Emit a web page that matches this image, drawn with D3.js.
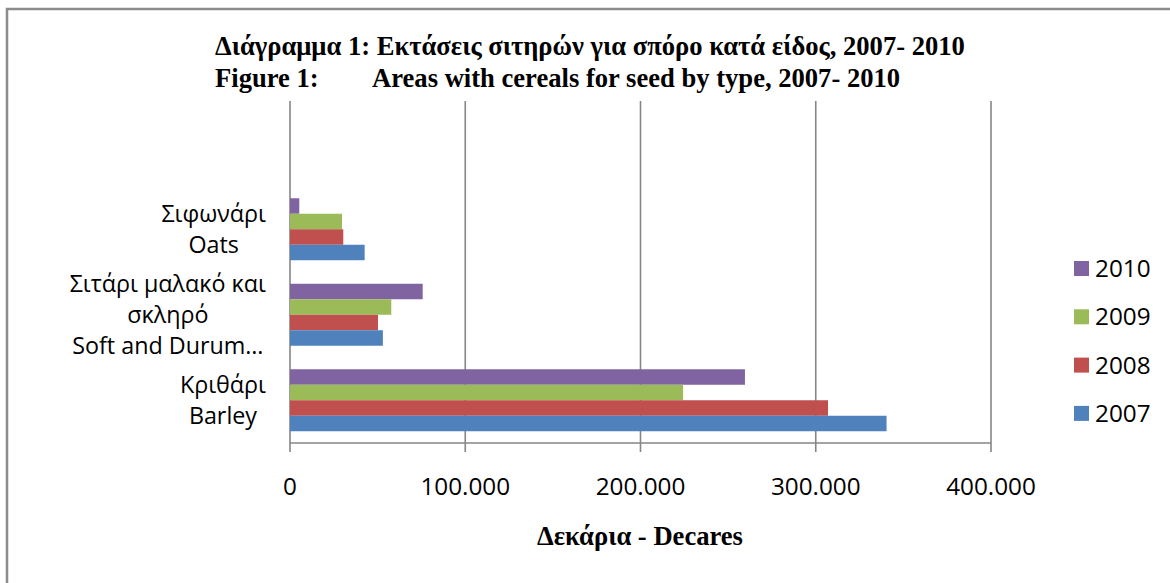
<!DOCTYPE html>
<html>
<head>
<meta charset="utf-8">
<title>Areas with cereals for seed by type</title>
<script src="https://d3js.org/d3.v7.min.js"></script>
<style>
  body { margin: 0; background: #fff; }
  .lbl { font-family: "Open Sans", "Noto Sans", sans-serif; font-size: 23.3px; fill: #000; }
  .num { font-family: "Open Sans", "Noto Sans", sans-serif; font-size: 24.3px; fill: #000; }
  .ttl { font-family: "Liberation Serif", "Times New Roman", serif; font-weight: bold; fill: #000; font-size: 26.6px; }
</style>
</head>
<body>
<div id="chart"></div>
<script>
  // data (decares)
  var categories = ["", "oats", "wheat", "barley"];
  var catLabels = {
    "": [],
    oats: ["Σιφωνάρι", "Oats"],
    wheat: ["Σιτάρι μαλακό και", "σκληρό", "Soft and Durum…"],
    barley: ["Κριθάρι", "Barley"]
  };
  var years = ["2010", "2009", "2008", "2007"];
  var v2007 = [0, 42600, 53000, 340400];
  var v2008 = [0, 30400, 50200, 307000];
  var v2009 = [0, 29700, 57800, 224300];
  var v2010 = [0, 5300, 75700, 259600];
  var xTicks = [0, 100000, 200000, 300000, 400000];
  var colors = {"2007": "#4F81BD", "2008": "#C0504D", "2009": "#9BBB59", "2010": "#8064A2"};

  var series = {"2007": v2007, "2008": v2008, "2009": v2009, "2010": v2010};

  var width = 1170, height = 583;
  var svg = d3.select("#chart").append("svg")
    .attr("width", width).attr("height", height);

  // chart border
  svg.append("rect")
    .attr("x", 7).attr("y", 9).attr("width", 1200).attr("height", 620)
    .attr("fill", "none").attr("stroke", "#8c8c8c").attr("stroke-width", 2.5);

  var x = d3.scaleLinear().domain([0, 400000]).range([290, 991]);
  var y = d3.scaleBand().domain(categories).range([101, 443])
    .paddingInner(0.275).paddingOuter(0.1375);
  var yInner = d3.scaleBand().domain(years).range([0, y.bandwidth()]);

  var fmt = d3.formatLocale({decimal: ",", thousands: ".", grouping: [3], currency: ["", ""]}).format(",");

  // gridlines
  svg.append("g").selectAll("line")
    .data(xTicks).enter().append("line")
    .attr("x1", function(d) { return x(d); })
    .attr("x2", function(d) { return x(d); })
    .attr("y1", 101).attr("y2", 452)
    .attr("stroke", "#868686").attr("stroke-width", 1.6);

  // bars
  var groups = svg.append("g").selectAll("g")
    .data(categories).enter().append("g")
    .attr("transform", function(d) { return "translate(0," + y(d) + ")"; });

  groups.each(function(c, i) {
    d3.select(this).selectAll("rect")
      .data(years).enter().append("rect")
      .attr("x", x(0))
      .attr("y", function(yr) { return yInner(yr); })
      .attr("width", function(yr) { return x(series[yr][i]) - x(0); })
      .attr("height", yInner.bandwidth())
      .attr("fill", function(yr) { return colors[yr]; });
  });

  // axis line
  svg.append("line").attr("x1", 290).attr("x2", 991).attr("y1", 443).attr("y2", 443)
    .attr("stroke", "#868686").attr("stroke-width", 1.6);

  // tick labels
  svg.append("g").selectAll("text")
    .data(xTicks).enter().append("text")
    .attr("class", "num")
    .attr("x", function(d) { return x(d); })
    .attr("y", 495)
    .attr("text-anchor", "middle")
    .text(function(d) { return fmt(d); });

  // category labels: block right-aligned at 265, lines centred inside block
  var lineH = 31;
  categories.forEach(function(c) {
    var lines = catLabels[c];
    if (!lines.length) return;
    var g = svg.append("g");
    var cy = y(c) + y.bandwidth() / 2;
    var texts = g.selectAll("text").data(lines).enter().append("text")
      .attr("class", "lbl")
      .attr("text-anchor", "middle")
      .attr("y", function(d, i) { return cy + (i - (lines.length - 1) / 2) * lineH + 8; })
      .text(function(d) { return d; });
    var maxW = 0;
    texts.each(function() { maxW = Math.max(maxW, this.getComputedTextLength()); });
    texts.attr("x", 266 - maxW / 2);
  });

  // legend
  var leg = svg.append("g").selectAll("g")
    .data(years).enter().append("g")
    .attr("transform", function(d, i) { return "translate(1074," + (261 + i * 48.3) + ")"; });
  leg.append("rect").attr("width", 15).attr("height", 15)
    .attr("fill", function(d) { return colors[d]; });
  leg.append("text").attr("class", "num")
    .attr("x", 21).attr("y", 16)
    .text(function(d) { return d; });

  // titles
  svg.append("text").attr("class", "ttl")
    .attr("x", 215).attr("y", 55)
    .text("Διάγραμμα 1: Εκτάσεις σιτηρών για σπόρο κατά είδος, 2007- 2010");
  svg.append("text").attr("class", "ttl")
    .attr("x", 215).attr("y", 87)
    .text("Figure 1:");
  svg.append("text").attr("class", "ttl")
    .attr("x", 372).attr("y", 87)
    .text("Areas with cereals for seed by type, 2007- 2010");

  svg.append("text").attr("class", "ttl")
    .attr("x", 640).attr("y", 545)
    .attr("text-anchor", "middle")
    .text("Δεκάρια - Decares");
</script>
</body>
</html>
